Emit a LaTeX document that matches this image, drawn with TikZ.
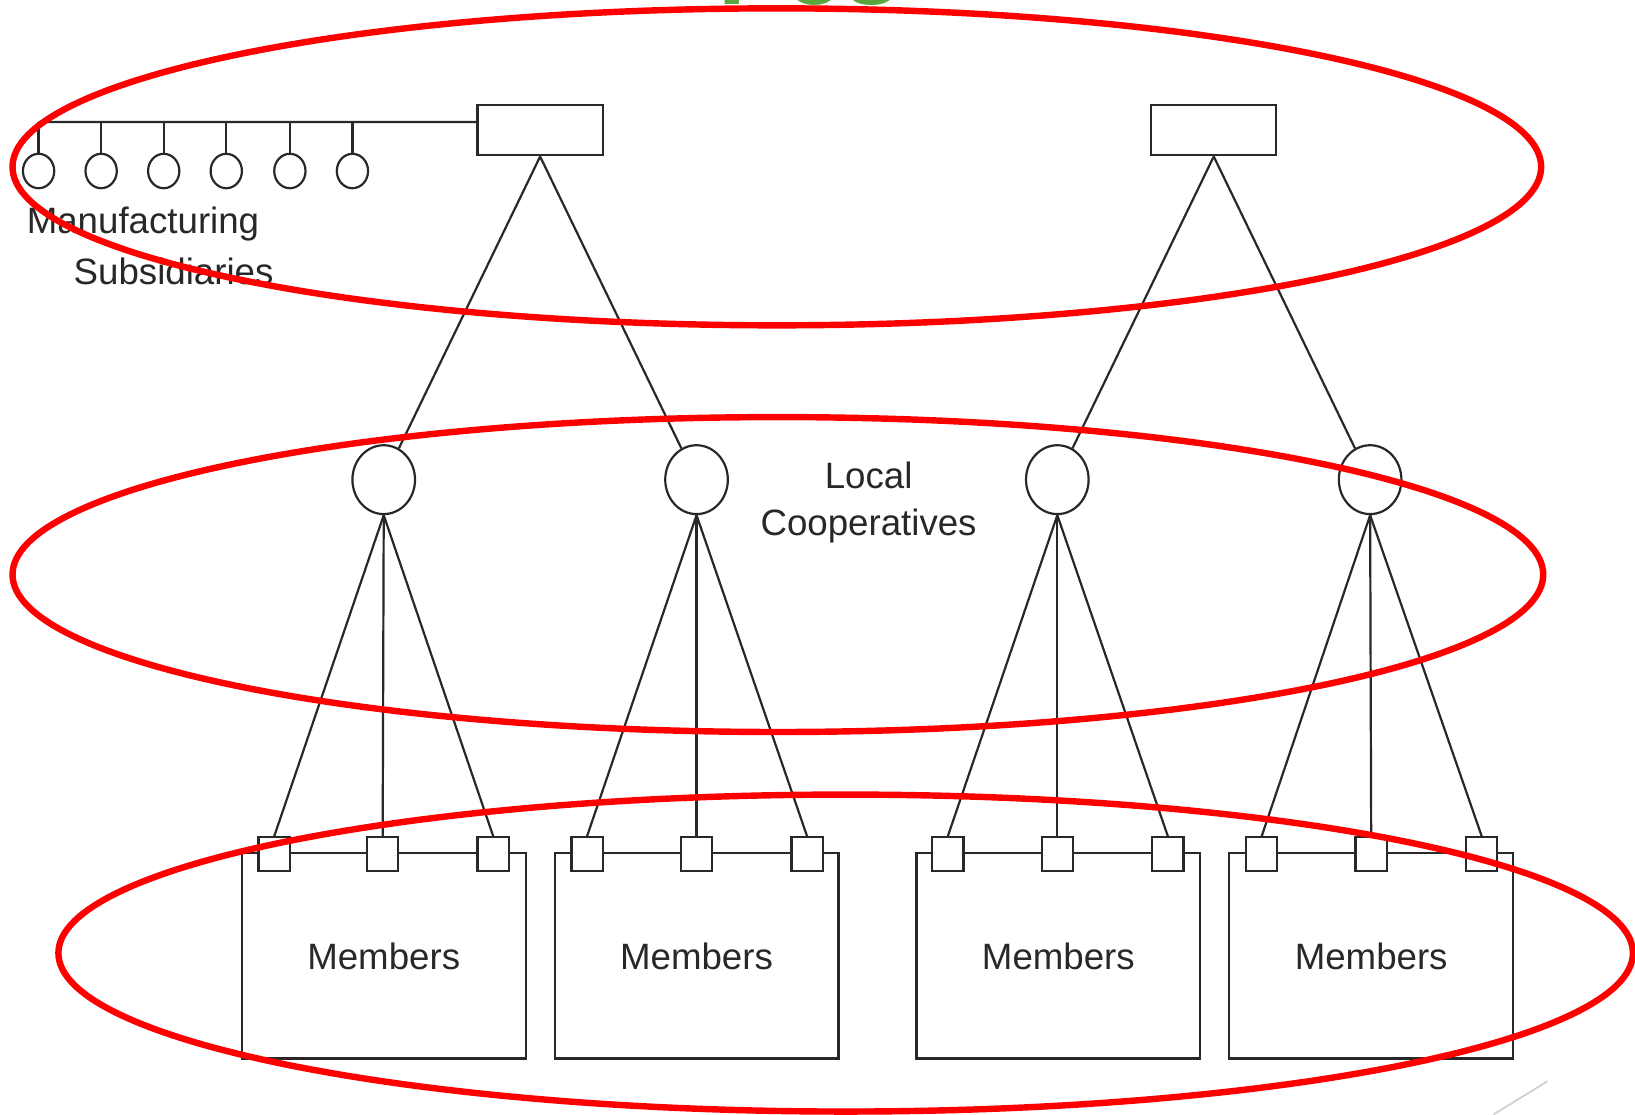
\documentclass[tikz,border=0pt]{standalone}
\usepackage{fontspec}
\setmainfont{Liberation Sans}
\usetikzlibrary{shapes.geometric}
\definecolor{ink}{RGB}{40,40,40}
\definecolor{ringred}{RGB}{255,0,0}
\definecolor{titlegreen}{RGB}{90,165,60}
\begin{document}
\begin{tikzpicture}[x=0.01cm,y=-0.01cm,
  line/.style={draw=ink,line width=0.6pt},
  topbox/.style={line,rectangle,minimum width=1.2cm,minimum height=0.48cm,inner sep=0pt},
  subcirc/.style={line,ellipse,minimum width=0.30cm,minimum height=0.33cm,inner sep=0pt},
  coopcirc/.style={line,ellipse,minimum width=0.60cm,minimum height=0.66cm,inner sep=0pt},
  sq/.style={line,rectangle,fill=white,minimum width=0.30cm,minimum height=0.32cm,inner sep=0pt},
  membox/.style={line,rectangle,minimum width=2.72cm,minimum height=1.97cm,inner sep=0pt},
  lbl/.style={text=ink,font=\fontsize{10}{12.8}\selectfont,inner sep=0pt},
  ring/.style={draw=ringred,line width=1.75pt}]
\useasboundingbox (0,0) rectangle (1568,1069);
% partially visible title
\node[text=titlegreen,font=\fontsize{27}{30}\selectfont\bfseries,anchor=base west,inner sep=0pt] (title) at (688,4) {Pos};
% top boxes
\node[topbox] (T1) at (518,125) {};
\node[topbox] (T2) at (1164,125) {};
% subsidiaries
\coordinate (hl) at (37,117);
\foreach \i/\x in {1/37,2/97,3/157,4/217,5/278,6/338}{
  \node[subcirc] (s\i) at (\x,164) {};
}
\draw[line] ([yshift=0.08cm]T1.west) -- (hl);
\foreach \i in {1,...,6}{ \draw[line] (s\i.north) -- (s\i.north |- hl); }
\node[lbl,anchor=west] (mtxt) at (25,215) {Manufacturing};
\node[lbl,anchor=west] (stxt) at (70,260) {Subsidiaries};
% cooperatives
\foreach \i/\x in {1/368,2/668,3/1014,4/1314}{
  \node[coopcirc] (C\i) at (\x,460) {};
}
\node[lbl,align=center] (ctxt) at (833,482) {Local\\Cooperatives};
\draw[line] (T1.south) -- (C1);
\draw[line] (T1.south) -- (C2);
\draw[line] (T2.south) -- (C3);
\draw[line] (T2.south) -- (C4);
% members
\foreach \i/\x in {1/368,2/668,3/1015,4/1315}{
  \node[membox] (M\i) at (\x,916.5) {};
  \node[lbl] (mt\i) at (\x,917) {Members};
}
\foreach \i/\a/\b/\c in {1/263/367/473,2/563/668/774,3/909/1014/1120,4/1210/1315/1421}{
  \node[sq] (q\i a) at (\a,819) {};
  \node[sq] (q\i b) at (\b,819) {};
  \node[sq] (q\i c) at (\c,819) {};
  \draw[line] (C\i.south) -- (q\i a.north);
  \draw[line] (C\i.south) -- (q\i b.north);
  \draw[line] (C\i.south) -- (q\i c.north);
}
% decorative corner line
\coordinate (g1) at (1432,1069);
\coordinate (g2) at (1484,1037);
\draw[black!18,line width=0.5pt] (g1) -- (g2);
% red rings
\draw[ring] (745,160) ellipse [x radius=733, y radius=152];
\draw[ring] (746,551) ellipse [x radius=734, y radius=151];
\draw[ring] (811,914) ellipse [x radius=755, y radius=152];
\end{tikzpicture}
\end{document}
